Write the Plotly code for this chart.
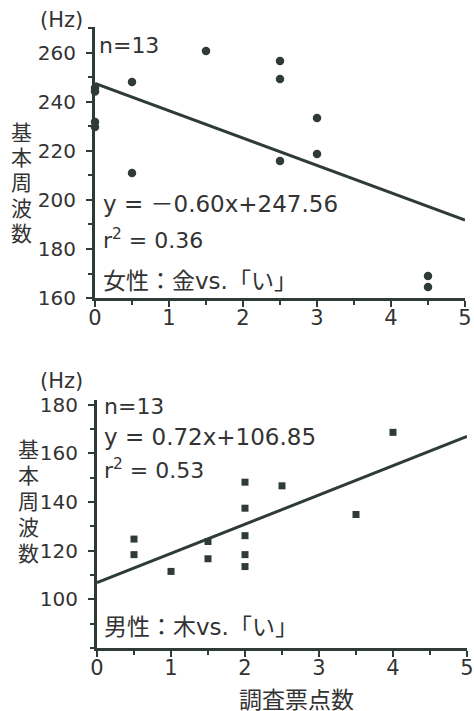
import plotly.graph_objects as go

# ---- data ----
# female speakers: survey score vs. fundamental frequency (Hz)
female_x = [0, 0, 0, 0, 0.5, 0.5, 1.5, 2.5, 2.5, 2.5, 3, 3, 4.5, 4.5]
female_y = [245.7, 244.3, 231.8, 229.8, 248.2, 211.0, 260.8, 256.7, 249.4, 215.9, 233.5, 218.8, 169.0, 164.5]
female_fit_x = [0, 5]
female_fit_y = [247.56, 191.8]

# male speakers
male_x = [0.5, 0.5, 1, 1.5, 1.5, 2, 2, 2, 2, 2, 2.5, 3.5, 4]
male_y = [124.8, 118.4, 111.5, 123.8, 116.7, 148.2, 137.5, 126.2, 118.4, 113.5, 146.7, 134.9, 168.7]
male_fit_x = [0, 5]
male_fit_y = [106.85, 167.0]

x_ticks = [0, 1, 2, 3, 4, 5]
female_y_ticks = [160, 180, 200, 220, 240, 260]
male_y_ticks = [100, 120, 140, 160, 180]

W, H = 474, 711
INK = "#2f3b39"
TXT = "#333333"
FONT = "DejaVu Sans, Noto Sans CJK JP"
JFONT = "Noto Sans CJK JP"


def px(x):
    return x / W


def py(y):
    return 1 - y / H


fig = go.Figure()

fig.add_trace(go.Scatter(x=female_x, y=female_y, mode="markers", xaxis="x", yaxis="y",
                         marker=dict(symbol="circle", size=8.5, color=INK), cliponaxis=False))
fig.add_trace(go.Scatter(x=female_fit_x, y=female_fit_y, mode="lines", xaxis="x", yaxis="y",
                         line=dict(color=INK, width=3), cliponaxis=False))
fig.add_trace(go.Scatter(x=male_x, y=male_y, mode="markers", xaxis="x2", yaxis="y2",
                         marker=dict(symbol="square", size=7, color=INK), cliponaxis=False))
fig.add_trace(go.Scatter(x=male_fit_x, y=male_fit_y, mode="lines", xaxis="x2", yaxis="y2",
                         line=dict(color=INK, width=3), cliponaxis=False))

xax = dict(range=[0, 5], tickvals=x_ticks, ticks="outside", ticklen=6, tickwidth=2,
           tickcolor=INK, showline=True, linewidth=3, linecolor=INK, showgrid=False,
           zeroline=False, tickfont=dict(family=FONT, size=21, color=TXT),
           automargin=False, ticklabelstandoff=-7,
           minor=dict(dtick=0.5, ticks="outside", ticklen=4, tickwidth=2, tickcolor=INK))
yax_common = dict(ticks="outside", ticklen=6, tickwidth=2, tickcolor=INK, showline=True,
                  linewidth=3, linecolor=INK, showgrid=False, zeroline=False,
                  tickfont=dict(family=FONT, size=20, color=TXT),
                  automargin=False, ticklabelstandoff=6,
                  minor=dict(dtick=10, ticks="outside", ticklen=4, tickwidth=2, tickcolor=INK))

fig.update_layout(
    width=W, height=H, margin=dict(l=0, r=0, t=0, b=0, autoexpand=False),
    paper_bgcolor="white", plot_bgcolor="white", showlegend=False,
    xaxis=dict(xax, domain=[px(95), px(465)], anchor="y"),
    yaxis=dict(yax_common, domain=[py(298), py(27)], range=[160, 270.6],
               tickvals=female_y_ticks, anchor="x"),
    xaxis2=dict(xax, domain=[px(97), px(467)], anchor="y2"),
    yaxis2=dict(yax_common, domain=[py(648), py(400)], range=[80, 182],
                tickvals=male_y_ticks, anchor="x2"),
)

ann = []


def label(text, x, y, xanchor="left", size=22, family=FONT):
    ann.append(dict(text=text, x=px(x), y=py(y), xref="paper", yref="paper",
                    xanchor=xanchor, yanchor="middle", showarrow=False,
                    font=dict(family=family, size=size, color=TXT)))


# top panel
label("(Hz)", 61, 20, "center", size=21)
label("n=13", 97, 45)
label("y = －0.60x+247.56", 101, 204, size=23)
label("r<sup>2</sup> = 0.36", 101, 239)
label("女性：金vs.「い」", 101, 281, size=23)
for ch, yy in zip("基本周波数", [131, 156, 181, 207, 232]):
    label(ch, 21, yy, "center", size=21, family=JFONT)

# bottom panel
label("(Hz)", 61, 381, "center", size=21)
label("n=13", 102, 406)
label("y = 0.72x+106.85", 102, 437, size=23)
label("r<sup>2</sup> = 0.53", 102, 469)
label("男性：木vs.「い」", 102, 627, size=23)
for ch, yy in zip("基本周波数", [448, 474, 500, 526, 552]):
    label(ch, 28, yy, "center", size=21, family=JFONT)
label("調査票点数", 296, 698, "center", size=23, family=JFONT)

fig.update_layout(annotations=ann)
fig.write_html("out.html")
